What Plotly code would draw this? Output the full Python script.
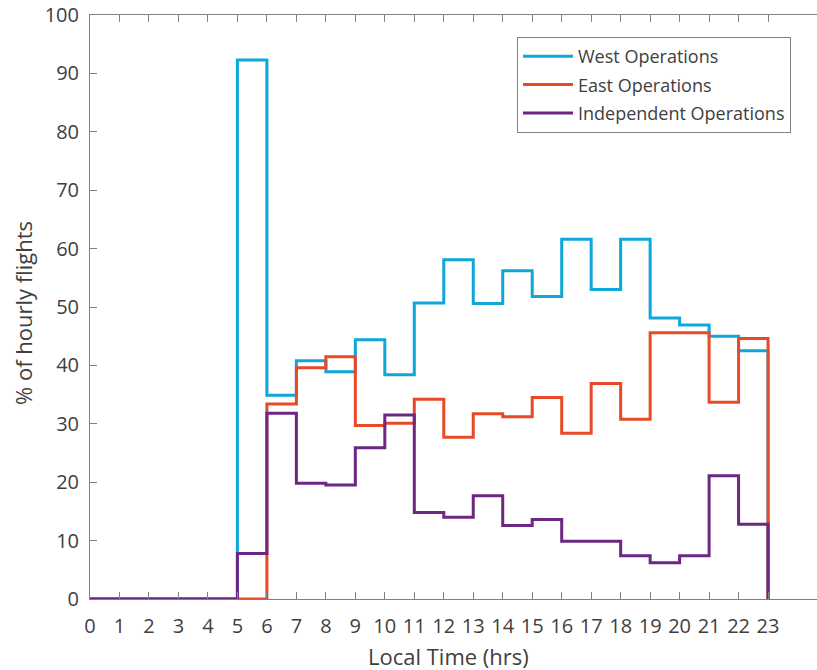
import plotly.graph_objects as go

hours = list(range(0, 24))
tick_labels = [str(h) for h in range(0, 24)]
west = [0, 0, 0, 0, 0, 92.3, 34.9, 40.8, 38.9, 44.4, 38.4, 50.7, 58.1, 50.6,
        56.2, 51.8, 61.6, 53.0, 61.6, 48.1, 46.9, 45.0, 42.5, 0]
east = [0, 0, 0, 0, 0, 0, 33.4, 39.6, 41.5, 29.7, 30.1, 34.2, 27.7, 31.7,
        31.2, 34.5, 28.4, 36.9, 30.8, 45.6, 45.6, 33.7, 44.6, 0]
independent = [0, 0, 0, 0, 0, 7.8, 31.8, 19.8, 19.5, 25.9, 31.5, 14.8, 14.0, 17.7,
               12.6, 13.6, 9.9, 9.9, 7.4, 6.2, 7.4, 21.1, 12.8, 0]
y_ticks = list(range(0, 101, 10))

series = [("West Operations", west, "#0ea7d9"),
          ("East Operations", east, "#e84a27"),
          ("Independent Operations", independent, "#6b2782")]

fig = go.Figure()
for i, (name, vals, col) in enumerate(series):
    fig.add_trace(go.Scatter(x=hours, y=vals, mode="lines", name=name,
                             line=dict(color=col, width=3, shape="hv"),
                             legendgroup=f"g{i}", cliponaxis=False))

FONT = "Open Sans"
axcol = "#808080"
txt = "#404040"
fig.update_layout(
    width=817, height=670,
    margin=dict(l=90, r=0, t=15, b=71),
    paper_bgcolor="white", plot_bgcolor="white",
    font=dict(family=FONT, color=txt, size=20),
    showlegend=True,
    legend=dict(x=(517 - 90) / 727, y=(599 - 37) / 584, xanchor="left", yanchor="top",
                bordercolor=axcol, borderwidth=1, bgcolor="white",
                font=dict(family=FONT, size=18, color=txt),
                itemwidth=50, tracegroupgap=2),
    xaxis=dict(range=[0, 24.66], tickvals=hours, ticktext=tick_labels,
               showline=True, linecolor=axcol, linewidth=1, mirror="ticks",
               ticks="inside", ticklen=7, tickcolor=axcol, showgrid=False,
               zeroline=False, tickfont=dict(size=20, color=txt),
               ticklabelstandoff=9),
    yaxis=dict(range=[0, 100], tickvals=y_ticks,
               showline=True, linecolor=axcol, linewidth=1, mirror=False,
               ticks="inside", ticklen=7, tickcolor=axcol, showgrid=False,
               zeroline=False, tickfont=dict(size=20, color=txt),
               ticklabelstandoff=6),
    annotations=[
        dict(text="Local Time (hrs)", xref="paper", yref="paper",
             x=(448 - 90) / 727, y=(599 - 656) / 584, showarrow=False,
             xanchor="center", yanchor="middle", font=dict(size=22, color=txt)),
        dict(text="% of hourly flights", xref="paper", yref="paper",
             x=(23 - 90) / 727, y=(599 - 313) / 584, showarrow=False, textangle=-90,
             xanchor="center", yanchor="middle", font=dict(size=22, color=txt)),
    ],
)

fig.write_html("out.html")
